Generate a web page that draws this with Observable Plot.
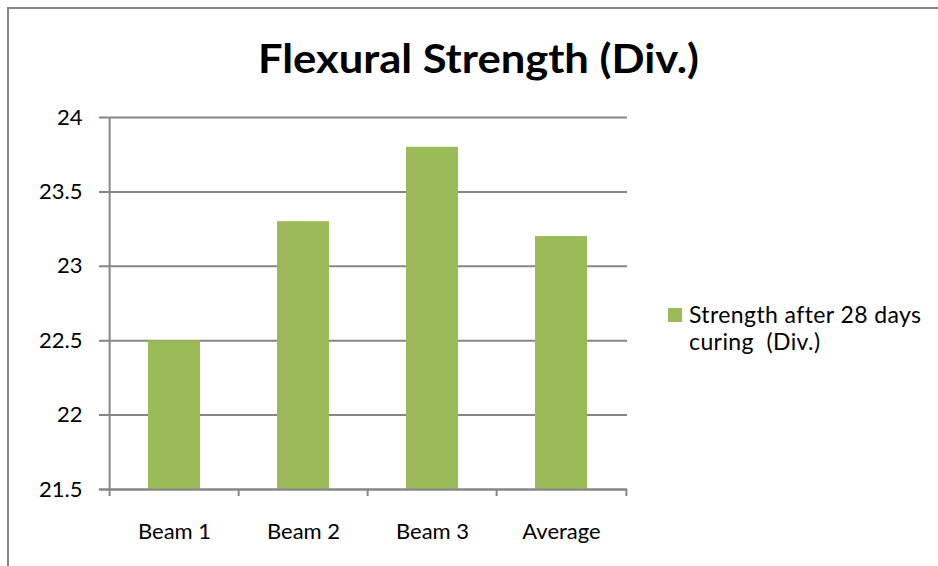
<!DOCTYPE html>
<html>
<head>
<meta charset="utf-8">
<script src="https://cdn.jsdelivr.net/npm/d3@7"></script>
<script src="https://cdn.jsdelivr.net/npm/@observablehq/plot@0.6"></script>
<style>
  html, body { margin: 0; padding: 0; background: #fff; overflow: hidden; }
  #chart { position: relative; width: 938px; height: 566px; overflow: hidden; background: #fff; }
  #chart > * { position: absolute; left: 0; top: 0; }
  #border-top { left: 7px; top: 7px; width: 931px; height: 2px; background: #868686; }
  #border-left { left: 7px; top: 7px; width: 2px; height: 559px; background: #868686; }
</style>
</head>
<body>
<div id="chart"></div>
<script>
// Flexural strength of the three beams after 28 days of curing, with their average.
const categories = ["Beam 1", "Beam 2", "Beam 3", "Average"];
const strength = [22.5, 23.3, 23.8, 23.2];
const yTicks = [21.5, 22, 22.5, 23, 23.5, 24];
const yMin = 21.5;
const yMax = 24;
const titleText = "Flexural Strength (Div.)";
const legendLines = ["Strength after 28 days", "curing  (Div.)"];

const barColor = "#9bbb59";
const lineColor = "#868686";
const fontFamily = "Lato, 'Open Sans', sans-serif";

const W = 938, H = 566;
const margin = {left: 108, right: 311, top: 117, bottom: 77};
const step = (W - margin.left - margin.right) / categories.length;

const rows = categories.map((category, i) => ({category, value: strength[i], base: yMin}));

const plot = Plot.plot({
  width: W,
  height: H,
  marginLeft: margin.left,
  marginRight: margin.right,
  marginTop: margin.top,
  marginBottom: margin.bottom,
  style: {fontFamily, fontSize: "22px", color: "#000", background: "transparent", overflow: "visible"},
  x: {domain: categories, paddingInner: 0.6, paddingOuter: 0.3, tickSize: 0, tickPadding: 34, label: null},
  y: {domain: [yMin, yMax], ticks: yTicks, tickSize: 0, tickPadding: 26, label: null, tickFormat: d => `${d}`},
  marks: [
    // horizontal gridlines, each with a short tick to the left of the axis
    Plot.ruleY(yTicks, {stroke: lineColor, strokeWidth: 2, insetLeft: -9}),
    Plot.barY(rows, {x: "category", y1: "base", y2: "value", fill: barColor}),
    // category axis line
    Plot.ruleY([yMin], {stroke: lineColor, strokeWidth: 2, insetLeft: -9}),
    // value axis line along the left edge of the first category
    Plot.ruleX(rows.slice(0, 1), {x: "category", dx: -step / 2, stroke: lineColor, strokeWidth: 2}),
    // tick marks between categories, below the axis
    Plot.ruleX(rows, {x: "category", y1: "base", y2: "base", dx: -step / 2, insetBottom: -7, stroke: lineColor, strokeWidth: 2}),
    Plot.ruleX(rows.slice(-1), {x: "category", y1: "base", y2: "base", dx: step / 2, insetBottom: -7, stroke: lineColor, strokeWidth: 2})
  ]
});

const chart = document.getElementById("chart");
chart.appendChild(plot);

// chart area outline (top and left edges)
for (const id of ["border-top", "border-left"]) {
  const edge = document.createElement("div");
  edge.id = id;
  chart.appendChild(edge);
}

const ns = "http://www.w3.org/2000/svg";
function box(left, top, width, height) {
  const svg = document.createElementNS(ns, "svg");
  svg.setAttribute("width", width);
  svg.setAttribute("height", height);
  svg.style.left = left + "px";
  svg.style.top = top + "px";
  svg.style.fontFamily = fontFamily;
  svg.style.overflow = "hidden";
  chart.appendChild(svg);
  return svg;
}

// chart title
const titleBox = box(200, 20, 560, 80);
const title = document.createElementNS(ns, "text");
title.setAttribute("x", 278.5);
title.setAttribute("y", 52.5);
title.setAttribute("text-anchor", "middle");
title.setAttribute("font-size", 41);
title.setAttribute("font-weight", 700);
title.setAttribute("fill", "#000");
title.setAttribute("textLength", 441);
title.setAttribute("lengthAdjust", "spacingAndGlyphs");
title.textContent = titleText;
titleBox.appendChild(title);

// legend swatch and label
const legendBox = box(660, 295, 272, 70);
const swatch = document.createElementNS(ns, "rect");
swatch.setAttribute("x", 8);
swatch.setAttribute("y", 13);
swatch.setAttribute("width", 14);
swatch.setAttribute("height", 14);
swatch.setAttribute("fill", barColor);
legendBox.appendChild(swatch);

const legend = document.createElementNS(ns, "text");
legend.setAttribute("font-size", 23);
legend.setAttribute("letter-spacing", "0.4");
legend.setAttribute("fill", "#000");
legend.style.whiteSpace = "pre";
legendLines.forEach((line, i) => {
  const t = document.createElementNS(ns, "tspan");
  t.setAttribute("x", 29);
  t.setAttribute("y", 28 + i * 27);
  t.textContent = line;
  legend.appendChild(t);
});
legendBox.appendChild(legend);
</script>
</body>
</html>
